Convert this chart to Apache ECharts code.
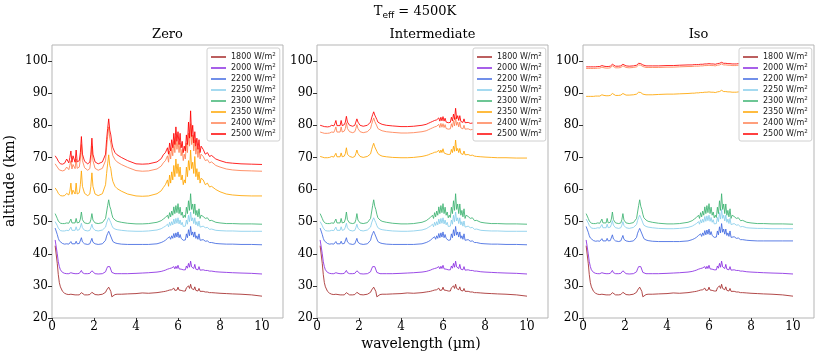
<!DOCTYPE html>
<html>
<head>
<meta charset="utf-8">
<script src="https://cdn.jsdelivr.net/npm/echarts@6/dist/echarts.min.js"></script>
<style>
html, body { margin: 0; padding: 0; background: #fff; }
#chart { width: 817px; height: 354px; }
</style>
</head>
<body>
<div id="chart"></div>
<script>
// wavelength grid (µm), shared by every curve
var WL = [
  0.15, 0.25, 0.3, 0.35, 0.4, 0.5, 0.6, 0.7,
  0.8, 0.85, 0.9, 0.95, 1.0, 1.1, 1.15, 1.2,
  1.3, 1.35, 1.4, 1.45, 1.55, 1.7, 1.8, 1.85, 1.9, 1.95, 2.05,
  2.2, 2.4, 2.55, 2.6, 2.65, 2.7, 2.75, 2.8, 2.85, 2.9, 3.0, 3.1,
  3.3, 3.6, 4.0, 4.3, 4.6, 5.0, 5.2, 5.3, 5.4,
  5.5, 5.55, 5.6, 5.65, 5.7, 5.75, 5.8, 5.85, 5.9, 5.95, 6.0, 6.05, 6.1, 6.15, 6.2, 6.25, 6.3, 6.35, 6.4, 6.45,
  6.5, 6.55, 6.6, 6.65, 6.7, 6.75, 6.8, 6.85, 6.9, 6.95, 7.0, 7.05, 7.1, 7.2, 7.3, 7.4,
  7.5, 7.6, 7.8, 8.0, 8.3, 8.6, 9.0, 9.5, 10.0
];

var FLUXES = ['1800', '2000', '2200', '2250', '2300', '2350', '2400', '2500'];
var COLORS = ['#a52a2a', '#8a2be2', '#4169e1', '#87ceeb', '#3cb371', '#ffa500', '#ff7f50', '#ff0000'];
var PANELS = ['Zero', 'Intermediate', 'Iso'];
var X_TICKS = [0, 2, 4, 6, 8, 10];
var Y_TICKS = [20, 30, 40, 50, 60, 70, 80, 90, 100];

// low-flux curves (same in Zero and Intermediate)
var low1800 = [
  42.5, 37.0, 33.5, 31.0, 29.7, 28.3, 27.7, 27.4,
  27.3, 27.3, 27.4, 27.3, 27.3, 27.2, 27.4, 27.2,
  27.2, 27.5, 27.9, 27.5, 27.2, 27.2, 27.3, 27.6, 28.0, 27.6, 27.3,
  27.2, 27.4, 28.0, 28.7, 29.3, 29.6, 29.1, 28.3, 26.6, 26.9, 27.3, 27.4,
  27.4, 27.5, 27.6, 27.8, 27.7, 27.9, 28.1, 28.2, 28.3,
  28.5, 28.3, 28.7, 28.4, 28.8, 28.5, 29.3, 28.6, 29.2, 28.7, 29.6, 28.7, 29.1, 28.6, 29.0, 28.4, 28.7, 28.4, 29.4, 28.9,
  30.0, 29.2, 30.5, 29.2, 29.6, 28.8, 29.7, 28.6, 29.0, 28.4, 29.2, 28.3, 28.4, 28.3, 28.1, 28.1,
  27.9, 27.9, 27.8, 27.7, 27.6, 27.5, 27.4, 27.2, 26.8
];
var low2000 = [
  44.3, 40.0, 37.5, 36.0, 35.0, 34.2, 33.9, 33.8,
  33.8, 33.9, 34.1, 33.8, 33.9, 33.8, 34.1, 33.8,
  33.9, 34.2, 34.8, 34.1, 33.8, 33.8, 33.9, 34.2, 34.7, 34.1, 33.8,
  33.7, 33.8, 34.4, 35.3, 36.0, 36.6, 36.0, 35.4, 34.2, 33.7, 33.8, 33.8,
  33.8, 33.8, 33.9, 34.0, 34.1, 34.3, 34.5, 34.7, 34.9,
  35.2, 34.9, 35.4, 35.0, 35.6, 35.1, 36.0, 35.3, 36.1, 35.4, 36.4, 35.3, 35.9, 35.2, 35.6, 35.0, 35.3, 35.0, 36.2, 35.5,
  37.0, 35.8, 37.7, 35.9, 36.5, 35.4, 36.7, 35.2, 35.7, 35.0, 36.0, 34.9, 35.1, 35.0, 34.8, 34.8,
  34.6, 34.6, 34.4, 34.3, 34.2, 34.1, 34.0, 33.9, 33.7
];
var low2200 = [
  48.0, 46.0, 44.8, 44.0, 43.5, 43.2, 43.0, 43.1,
  43.0, 43.3, 43.8, 43.1, 43.3, 43.1, 43.9, 43.1,
  43.2, 43.8, 45.0, 43.7, 43.1, 42.9, 43.1, 43.7, 44.8, 43.6, 43.1,
  42.9, 43.1, 44.2, 45.5, 46.3, 47.0, 46.2, 45.6, 44.6, 43.8, 43.4, 43.2,
  43.0, 42.9, 42.9, 42.9, 42.9, 43.1, 43.5, 43.8, 44.2,
  44.8, 44.2, 45.3, 44.5, 45.6, 44.8, 46.3, 45.0, 46.5, 45.2, 46.8, 45.0, 46.0, 44.8, 45.3, 44.2, 44.6, 44.3, 46.2, 45.0,
  47.5, 45.6, 48.5, 45.8, 46.8, 45.2, 46.8, 44.8, 45.6, 44.5, 46.2, 44.2, 44.7, 44.4, 43.9, 44.0,
  43.5, 43.5, 43.2, 43.1, 43.0, 43.0, 42.9, 42.9, 42.8
];
var low2250 = [
  50.0, 48.8, 48.0, 47.5, 47.2, 47.1, 47.1, 47.3,
  47.2, 47.6, 48.3, 47.3, 47.6, 47.3, 48.4, 47.3,
  47.5, 48.3, 49.5, 48.1, 47.3, 47.1, 47.3, 48.1, 49.2, 48.0, 47.3,
  47.1, 47.4, 48.3, 49.6, 50.5, 51.2, 50.4, 49.7, 48.8, 48.1, 47.7, 47.5,
  47.3, 47.1, 47.0, 47.0, 47.1, 47.4, 47.8, 48.2, 48.6,
  49.2, 48.4, 49.8, 48.8, 50.0, 49.0, 50.8, 49.3, 51.0, 49.5, 51.2, 49.3, 50.5, 49.0, 49.8, 48.5, 49.0, 48.6, 50.5, 49.2,
  52.0, 50.0, 53.0, 50.2, 51.2, 49.4, 51.2, 49.0, 50.0, 48.6, 50.2, 48.3, 48.9, 48.6, 48.1, 48.2,
  47.6, 47.7, 47.3, 47.2, 47.1, 47.1, 47.0, 47.0, 47.0
];
var low2300 = [
  52.5, 51.0, 50.2, 49.8, 49.5, 49.4, 49.4, 49.6,
  49.5, 49.9, 50.8, 49.6, 50.0, 49.6, 51.0, 49.6,
  49.8, 50.8, 53.0, 50.6, 49.6, 49.4, 49.6, 50.6, 52.5, 50.5, 49.6,
  49.4, 49.7, 51.0, 53.0, 55.0, 56.8, 54.8, 53.8, 52.3, 51.2, 50.5, 50.1,
  49.8, 49.5, 49.3, 49.3, 49.4, 49.8, 50.3, 50.8, 51.3,
  52.0, 51.0, 52.8, 51.5, 53.3, 52.0, 54.6, 52.5, 55.0, 52.8, 55.6, 52.5, 54.5, 52.0, 53.0, 51.2, 52.0, 51.3, 54.5, 52.5,
  56.5, 53.5, 58.7, 53.8, 55.5, 52.5, 55.5, 52.0, 53.5, 51.5, 54.0, 51.0, 52.0, 51.6, 51.0, 51.2,
  50.3, 50.4, 49.8, 49.6, 49.4, 49.4, 49.3, 49.3, 49.2
];

// Zero: high-flux curves
var zero2350 = [
  60.5, 59.5, 58.8, 58.3, 58.1, 58.0, 58.1, 58.8,
  58.3, 59.5, 62.0, 58.5, 59.8, 58.6, 62.0, 58.6,
  59.0, 61.5, 65.8, 61.0, 58.8, 58.1, 58.6, 61.0, 65.2, 61.0, 58.6,
  58.1, 58.7, 61.5, 65.0, 68.0, 70.8, 67.5, 66.5, 64.0, 62.5, 61.0, 60.3,
  59.5, 58.6, 58.0, 57.9, 58.0, 58.7, 59.6, 60.6, 61.5,
  63.0, 61.0, 64.5, 62.0, 65.5, 63.0, 67.5, 64.0, 69.5, 65.0, 68.0, 64.0, 67.0, 63.0, 64.5, 61.5, 63.0, 62.0, 67.0, 64.0,
  69.0, 66.0, 72.3, 66.5, 68.5, 65.0, 70.3, 64.0, 66.5, 63.0, 65.5, 62.0, 63.5, 63.0, 61.5, 62.0,
  60.8, 61.0, 60.0, 59.3, 58.6, 58.3, 58.1, 58.0, 58.0
];
var zero2400 = [
  68.0, 67.0, 66.5, 66.1, 65.9, 65.8, 66.0, 67.0,
  66.2, 67.5, 69.0, 66.4, 67.8, 66.5, 69.5, 66.6,
  67.0, 69.5, 74.0, 69.0, 66.8, 66.0, 66.5, 69.0, 73.5, 69.0, 66.6,
  66.0, 66.6, 69.0, 73.0, 76.5, 79.5, 76.0, 74.5, 72.0, 70.5, 69.3, 68.6,
  67.8, 66.9, 65.9, 65.7, 65.8, 66.4, 67.3, 68.3, 69.0,
  70.5, 68.5, 72.0, 69.5, 73.0, 70.5, 75.0, 71.5, 76.5, 72.5, 75.0, 71.5, 74.5, 70.5, 72.5, 69.0, 71.0, 69.5, 74.5, 71.5,
  77.5, 73.5, 80.5, 74.0, 77.0, 72.0, 75.5, 71.0, 73.5, 70.0, 73.0, 69.5, 71.0, 70.3, 69.0, 69.3,
  68.3, 68.6, 67.5, 67.0, 66.4, 66.1, 65.9, 65.8, 65.7
];
var zero2500 = [
  70.5, 69.5, 68.8, 68.3, 68.0, 67.9, 68.2, 69.5,
  68.3, 70.0, 72.0, 68.5, 70.5, 68.5, 72.3, 68.6,
  69.0, 71.5, 76.5, 71.0, 68.8, 68.0, 68.5, 71.0, 76.0, 71.0, 68.6,
  68.0, 68.6, 71.0, 75.5, 79.0, 82.0, 78.5, 77.0, 74.5, 73.0, 71.5, 70.8,
  70.0, 69.0, 68.0, 67.9, 68.0, 68.6, 69.6, 70.8, 71.5,
  73.0, 71.0, 74.5, 72.0, 75.5, 73.0, 77.5, 74.0, 79.5, 75.0, 78.0, 74.0, 77.5, 73.0, 75.0, 71.5, 73.5, 72.0, 77.0, 74.0,
  81.0, 76.0, 84.5, 76.5, 80.0, 74.5, 78.0, 73.5, 76.0, 72.5, 75.5, 71.5, 73.5, 72.5, 71.0, 71.5,
  70.3, 70.6, 69.5, 69.0, 68.4, 68.2, 68.0, 67.9, 67.8
];

// Intermediate: high-flux curves
var int2350 = [
  70.3, 70.1, 70.0, 69.9, 69.9, 69.9, 70.0, 70.3,
  70.1, 70.6, 71.3, 70.2, 70.6, 70.2, 71.4, 70.2,
  70.4, 71.2, 73.0, 71.0, 70.3, 70.0, 70.3, 71.2, 72.3, 71.2, 70.3,
  70.0, 70.3, 71.1, 72.4, 73.5, 74.4, 73.3, 72.7, 71.9, 71.2, 70.7, 70.4,
  70.2, 70.0, 69.9, 69.9, 70.0, 70.3, 70.6, 70.8, 71.1,
  71.3, 70.9, 71.6, 71.1, 71.7, 71.2, 72.2, 71.4, 72.3, 71.5, 72.7, 71.4, 72.0, 71.1, 71.5, 70.9, 71.2, 71.0, 72.5, 71.5,
  73.5, 71.9, 75.4, 72.0, 72.8, 71.5, 72.8, 71.2, 71.7, 70.9, 72.0, 70.8, 71.0, 70.9, 70.6, 70.7,
  70.4, 70.3, 70.2, 70.1, 70.0, 69.9, 69.9, 69.8, 69.8
];
var int2400 = [
  77.9, 77.7, 77.6, 77.5, 77.5, 77.5, 77.6, 77.9,
  77.8, 78.5, 79.5, 77.9, 78.5, 77.9, 79.5, 77.9,
  78.2, 79.0, 80.8, 79.0, 78.0, 77.7, 78.0, 79.0, 80.2, 79.0, 78.0,
  77.7, 78.0, 79.0, 80.3, 81.3, 82.3, 81.2, 80.6, 79.8, 79.0, 78.6, 78.3,
  78.0, 77.8, 77.6, 77.6, 77.7, 78.0, 78.3, 78.6, 78.9,
  79.2, 78.7, 79.5, 79.0, 79.7, 79.1, 80.3, 79.3, 80.6, 79.4, 80.5, 79.3, 80.2, 79.0, 79.5, 78.8, 79.2, 78.9, 80.5, 79.4,
  81.5, 79.8, 82.4, 80.0, 81.0, 79.5, 81.0, 79.2, 79.8, 78.9, 80.0, 78.8, 79.0, 78.9, 78.6, 78.7,
  78.4, 78.3, 78.1, 78.0, 77.9, 77.8, 77.8, 77.7, 77.7
];
var int2500 = [
  80.0, 79.8, 79.7, 79.6, 79.5, 79.5, 79.6, 80.0,
  79.8, 80.5, 81.5, 79.9, 80.5, 79.9, 81.5, 79.9,
  80.2, 81.0, 82.8, 81.0, 80.0, 79.7, 80.0, 81.0, 82.0, 81.0, 80.0,
  79.7, 80.0, 81.0, 82.3, 83.3, 84.2, 83.2, 82.6, 81.8, 81.0, 80.6, 80.3,
  80.0, 79.8, 79.6, 79.6, 79.7, 80.0, 80.3, 80.6, 80.9,
  81.2, 80.7, 81.5, 81.0, 81.7, 81.1, 82.3, 81.3, 82.5, 81.4, 82.7, 81.3, 82.2, 81.0, 81.5, 80.8, 81.2, 80.9, 82.5, 81.4,
  83.5, 81.8, 85.3, 82.0, 83.0, 81.5, 83.0, 81.2, 81.8, 80.9, 82.0, 80.8, 81.0, 80.9, 80.6, 80.7,
  80.4, 80.3, 80.1, 80.0, 79.9, 79.8, 79.8, 79.7, 79.7
];

// Iso: curves that differ from the shared low ones
var iso2200 = [
  48.5, 46.7, 45.6, 44.9, 44.4, 44.1, 43.9, 44.0,
  43.9, 44.2, 44.7, 44.0, 44.2, 44.0, 44.8, 44.0,
  44.1, 44.7, 45.9, 44.6, 44.0, 43.8, 44.0, 44.6, 45.7, 44.5, 44.0,
  43.8, 44.0, 45.1, 46.4, 47.2, 47.9, 47.1, 46.5, 45.5, 44.7, 44.3, 44.1,
  43.9, 43.8, 43.8, 43.8, 43.8, 44.0, 44.4, 44.7, 45.1,
  45.7, 45.1, 46.2, 45.4, 46.5, 45.7, 47.2, 45.9, 47.4, 46.1, 47.7, 45.9, 46.9, 45.7, 46.2, 45.1, 45.5, 45.2, 47.1, 45.9,
  48.4, 46.5, 49.4, 46.7, 47.7, 46.1, 47.7, 45.7, 46.5, 45.4, 47.1, 45.1, 45.6, 45.3, 44.8, 44.9,
  44.4, 44.4, 44.2, 44.1, 44.0, 44.0, 44.0, 44.0, 44.0
];
var iso2250 = [
  50.8, 49.6, 48.8, 48.3, 48.0, 47.9, 47.9, 48.1,
  48.0, 48.4, 49.1, 48.1, 48.4, 48.1, 49.2, 48.1,
  48.3, 49.1, 50.3, 48.9, 48.1, 47.9, 48.1, 48.9, 50.0, 48.8, 48.1,
  47.9, 48.2, 49.1, 50.4, 51.3, 52.0, 51.2, 50.5, 49.6, 48.9, 48.5, 48.3,
  48.1, 47.9, 47.8, 47.8, 47.9, 48.2, 48.6, 49.0, 49.4,
  50.0, 49.2, 50.6, 49.6, 50.8, 49.8, 51.6, 50.1, 51.8, 50.3, 52.0, 50.1, 51.3, 49.8, 50.6, 49.3, 49.8, 49.4, 51.3, 50.0,
  52.8, 50.8, 53.8, 51.0, 52.0, 50.2, 52.0, 49.8, 50.8, 49.4, 51.0, 49.1, 49.7, 49.4, 48.9, 49.0,
  48.4, 48.5, 48.1, 48.0, 47.9, 47.9, 47.8, 47.8, 47.8
];
var iso2350 = [
  89.0, 89.0, 89.0, 89.0, 89.0, 89.0, 89.1, 89.1,
  89.1, 89.2, 89.5, 89.2, 89.3, 89.2, 89.5, 89.2,
  89.3, 89.5, 89.9, 89.5, 89.3, 89.3, 89.4, 89.6, 89.9, 89.6, 89.4,
  89.4, 89.5, 89.7, 90.0, 90.3, 90.5, 90.2, 90.0, 89.7, 89.6, 89.5, 89.5,
  89.5, 89.6, 89.7, 89.7, 89.8, 89.9, 90.0, 90.0, 90.1,
  90.1, 90.1, 90.2, 90.1, 90.2, 90.2, 90.3, 90.2, 90.3, 90.2, 90.4, 90.2, 90.3, 90.2, 90.3, 90.2, 90.2, 90.2, 90.4, 90.3,
  90.5, 90.4, 90.9, 90.4, 90.5, 90.3, 90.5, 90.3, 90.4, 90.3, 90.4, 90.3, 90.3, 90.3, 90.3, 90.4,
  90.4, 90.4, 90.4, 90.5, 90.5, 90.5, 90.5, 90.5, 90.5
];
var iso2400 = [
  97.7, 97.7, 97.7, 97.7, 97.7, 97.7, 97.7, 97.8,
  97.8, 97.9, 98.1, 97.8, 97.9, 97.8, 98.1, 97.8,
  97.9, 98.1, 98.5, 98.1, 97.9, 97.9, 98.0, 98.2, 98.5, 98.2, 98.0,
  97.9, 98.0, 98.2, 98.5, 98.8, 98.9, 98.7, 98.5, 98.3, 98.1, 98.0, 98.0,
  98.0, 98.0, 98.1, 98.1, 98.2, 98.3, 98.3, 98.4, 98.4,
  98.4, 98.4, 98.5, 98.4, 98.5, 98.5, 98.6, 98.5, 98.6, 98.5, 98.7, 98.5, 98.6, 98.5, 98.6, 98.5, 98.5, 98.5, 98.7, 98.6,
  98.8, 98.7, 99.1, 98.7, 98.8, 98.6, 98.8, 98.6, 98.7, 98.6, 98.7, 98.6, 98.6, 98.6, 98.6, 98.7,
  98.7, 98.7, 98.7, 98.8, 98.8, 98.8, 98.9, 98.9, 98.9
];
var iso2500 = [
  98.2, 98.2, 98.2, 98.2, 98.2, 98.2, 98.2, 98.3,
  98.3, 98.4, 98.6, 98.3, 98.4, 98.3, 98.6, 98.3,
  98.4, 98.6, 99.0, 98.6, 98.4, 98.4, 98.5, 98.7, 99.0, 98.7, 98.5,
  98.4, 98.5, 98.7, 99.0, 99.3, 99.4, 99.2, 99.0, 98.8, 98.6, 98.5, 98.5,
  98.5, 98.5, 98.6, 98.6, 98.7, 98.8, 98.8, 98.9, 98.9,
  98.9, 98.9, 99.0, 98.9, 99.0, 99.0, 99.1, 99.0, 99.1, 99.0, 99.2, 99.0, 99.1, 99.0, 99.1, 99.0, 99.0, 99.0, 99.2, 99.1,
  99.3, 99.2, 99.6, 99.2, 99.3, 99.1, 99.3, 99.1, 99.2, 99.1, 99.2, 99.1, 99.1, 99.1, 99.1, 99.2,
  99.2, 99.2, 99.2, 99.3, 99.3, 99.3, 99.4, 99.4, 99.4
];

var CURVES = [
  [low1800, low2000, low2200, low2250, low2300, zero2350, zero2400, zero2500],
  [low1800, low2000, low2200, low2250, low2300, int2350, int2400, int2500],
  [low1800, low2000, iso2200, iso2250, low2300, iso2350, iso2400, iso2500]
];

var GRID_LEFT = [52, 317, 583];
var GRID_W = 231;
var GRID_TOP = 45;
var GRID_H = 273;
var LEGEND_LEFT = [207, 473, 739];

var SERIF = 'DejaVu Serif';
var SANS = 'DejaVu Sans';

var chart = echarts.init(document.getElementById('chart'), null, { renderer: 'canvas' });

var grids = [], xAxes = [], yAxes = [], legends = [], series = [], graphics = [];

PANELS.forEach(function (title, p) {
  grids.push({
    left: GRID_LEFT[p], top: GRID_TOP, width: GRID_W, height: GRID_H,
    show: true, borderColor: '#b5b5b5', borderWidth: 1, backgroundColor: 'transparent'
  });
  xAxes.push({
    type: 'value', gridIndex: p, min: 0, max: 11,
    axisLine: { show: false },
    splitLine: { show: false },
    axisTick: { customValues: X_TICKS, length: 3, lineStyle: { color: '#333' } },
    axisLabel: { customValues: X_TICKS, margin: 3, fontFamily: SERIF, fontSize: 12, color: '#000' }
  });
  yAxes.push({
    type: 'value', gridIndex: p, min: 20, max: 105,
    axisLine: { show: false },
    splitLine: { show: false },
    axisTick: { customValues: Y_TICKS, length: 4, lineStyle: { color: '#333' } },
    axisLabel: { customValues: Y_TICKS, margin: 4, fontFamily: SERIF, fontSize: 12, color: '#000' }
  });
  legends.push({
    orient: 'vertical', left: LEGEND_LEFT[p], top: GRID_TOP + 3,
    data: FLUXES.slice(),
    selectedMode: false,
    icon: 'rect', itemWidth: 15, itemHeight: 2, itemGap: 2,
    padding: [4, 4, 3, 4],
    backgroundColor: '#fff', borderColor: '#d0d0d0', borderWidth: 1, borderRadius: 2,
    itemStyle: { opacity: 0.75 },
    formatter: function (name) { return '{a|' + name + ' W/m}{s|2}'; },
    textStyle: {
      rich: {
        a: { fontFamily: SANS, fontSize: 8, lineHeight: 10, color: '#222' },
        s: { fontFamily: SANS, fontSize: 5.5, lineHeight: 6, verticalAlign: 'top', color: '#222' }
      }
    }
  });
  graphics.push({
    type: 'text', x: GRID_LEFT[p] + GRID_W / 2, y: 35,
    style: { text: title, font: '13px "' + SERIF + '"', fill: '#000', align: 'center', verticalAlign: 'middle' }
  });
  CURVES[p].forEach(function (ys, k) {
    series.push({
      name: FLUXES[k], type: 'line', xAxisIndex: p, yAxisIndex: p,
      data: WL.map(function (x, i) { return [x, ys[i]]; }),
      symbol: 'none', showSymbol: false, silent: true,
      color: COLORS[k],
      lineStyle: { width: 1, color: COLORS[k], opacity: 0.85 }
    });
  });
});

graphics.push({
  type: 'text', x: 415, y: 12,
  style: {
    text: '{t|T}{s|eff}{t| = 4500K}',
    align: 'center', verticalAlign: 'middle',
    rich: {
      t: { fontFamily: SERIF, fontSize: 13, lineHeight: 16, fill: '#000' },
      s: { fontFamily: SANS, fontSize: 9, lineHeight: 9, verticalAlign: 'bottom', fill: '#000' }
    }
  }
});
graphics.push({
  type: 'text', x: 421, y: 344,
  style: { text: 'wavelength (µm)', font: '14px "' + SERIF + '"', fill: '#000', align: 'center', verticalAlign: 'middle' }
});
graphics.push({
  type: 'text', x: 10, y: 181, rotation: Math.PI / 2,
  style: { text: 'altitude (km)', font: '14px "' + SERIF + '"', fill: '#000', align: 'center', verticalAlign: 'middle' }
});

chart.setOption({
  animation: false,
  backgroundColor: '#fff',
  grid: grids,
  xAxis: xAxes,
  yAxis: yAxes,
  legend: legends,
  series: series,
  graphic: graphics
});
</script>
</body>
</html>
